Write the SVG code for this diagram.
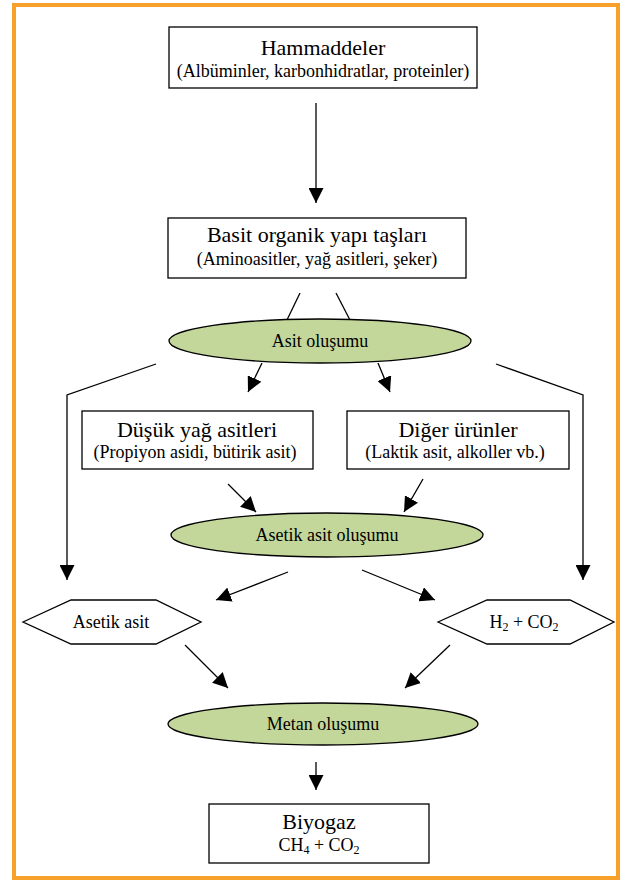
<svg xmlns="http://www.w3.org/2000/svg" width="624" height="880" viewBox="0 0 624 880">
<defs>
<marker id="ah" markerUnits="userSpaceOnUse" markerWidth="15" markerHeight="15" refX="15" refY="7.5" orient="auto" viewBox="0 0 15 15">
<path d="M0,0 L15,7.5 L0,15 z" fill="#000"/>
</marker>
<style>
.box{fill:#fff;stroke:#000;stroke-width:1.3}
.ell{fill:#C4D79B;stroke:#000;stroke-width:1.3}
.hex{fill:#fff;stroke:#000;stroke-width:1.3}
.ln{fill:none;stroke:#000;stroke-width:1.3}
.arr{fill:none;stroke:#000;stroke-width:1.3;marker-end:url(#ah)}
text{font-family:"Liberation Serif","Times New Roman",serif;fill:#000;text-anchor:middle}
.t{font-size:22px}
.s{font-size:18px}
.e{font-size:18px}
.sub{font-size:12px}
</style>
</defs>
<rect x="14" y="5" width="604" height="873" fill="#fff" stroke="#F7A12B" stroke-width="4"/>
<g id="connectors">
<line class="arr" x1="316" y1="103" x2="316" y2="203"/>
<line class="ln" x1="300" y1="293" x2="286" y2="322"/>
<line class="ln" x1="336" y1="293" x2="351" y2="322"/>
<polyline class="arr" points="156,364 67,395 67,580"/>
<polyline class="arr" points="496,364 583,395 583,580"/>
<line class="arr" x1="262" y1="363" x2="248" y2="392"/>
<line class="arr" x1="378" y1="363" x2="390" y2="392"/>
<line class="arr" x1="228" y1="484" x2="256" y2="512"/>
<line class="arr" x1="423" y1="479" x2="404" y2="512"/>
<line class="arr" x1="288" y1="572" x2="216" y2="600"/>
<line class="arr" x1="362" y1="570" x2="435" y2="600"/>
<line class="arr" x1="185" y1="645" x2="228" y2="688"/>
<line class="arr" x1="450" y1="645" x2="405" y2="688"/>
<line class="arr" x1="316" y1="762" x2="316" y2="790"/>
</g>
<g id="hammaddeler">
<rect class="box" x="169" y="27" width="308" height="61"/>
<text class="t" x="323" y="55">Hammaddeler</text>
<text class="s" x="323" y="77">(Albüminler, karbonhidratlar, proteinler)</text>
</g>
<g id="basit">
<rect class="box" x="168" y="218" width="298" height="60"/>
<text class="t" x="317" y="242">Basit organik yapı taşları</text>
<text class="s" x="317" y="265">(Aminoasitler, yağ asitleri, şeker)</text>
</g>
<g id="asit-olusumu">
<ellipse class="ell" cx="320" cy="341" rx="151" ry="22"/>
<text class="e" x="320" y="347">Asit oluşumu</text>
</g>
<g id="dusuk">
<rect class="box" x="82" y="411" width="231" height="58"/>
<text class="t" x="197" y="437">Düşük yağ asitleri</text>
<text class="s" x="195" y="458">(Propiyon asidi, bütirik asit)</text>
</g>
<g id="diger">
<rect class="box" x="347" y="411" width="222" height="58"/>
<text class="t" x="458" y="437">Diğer ürünler</text>
<text class="s" x="455" y="458">(Laktik asit, alkoller vb.)</text>
</g>
<g id="asetik-olusumu">
<ellipse class="ell" cx="327" cy="535" rx="156" ry="22"/>
<text class="e" x="327" y="541">Asetik asit oluşumu</text>
</g>
<g id="asetik-asit">
<polygon class="hex" points="23,622 71,600 156,600 201,622 156,644 71,644"/>
<text class="e" x="111" y="628">Asetik asit</text>
</g>
<g id="h2co2">
<polygon class="hex" points="438,622 487,600 570,600 614,622 570,644 487,644"/>
<text class="e" x="524" y="628">H<tspan class="sub" dy="3">2</tspan><tspan dy="-3"> + CO</tspan><tspan class="sub" dy="3">2</tspan></text>
</g>
<g id="metan">
<ellipse class="ell" cx="323" cy="724" rx="155" ry="21"/>
<text class="e" x="323" y="730">Metan oluşumu</text>
</g>
<g id="biyogaz">
<rect class="box" x="209" y="804" width="220" height="59"/>
<text class="t" x="319" y="829">Biyogaz</text>
<text class="s" x="319" y="851">CH<tspan class="sub" dy="3">4</tspan><tspan dy="-3"> + CO</tspan><tspan class="sub" dy="3">2</tspan></text>
</g>
</svg>
